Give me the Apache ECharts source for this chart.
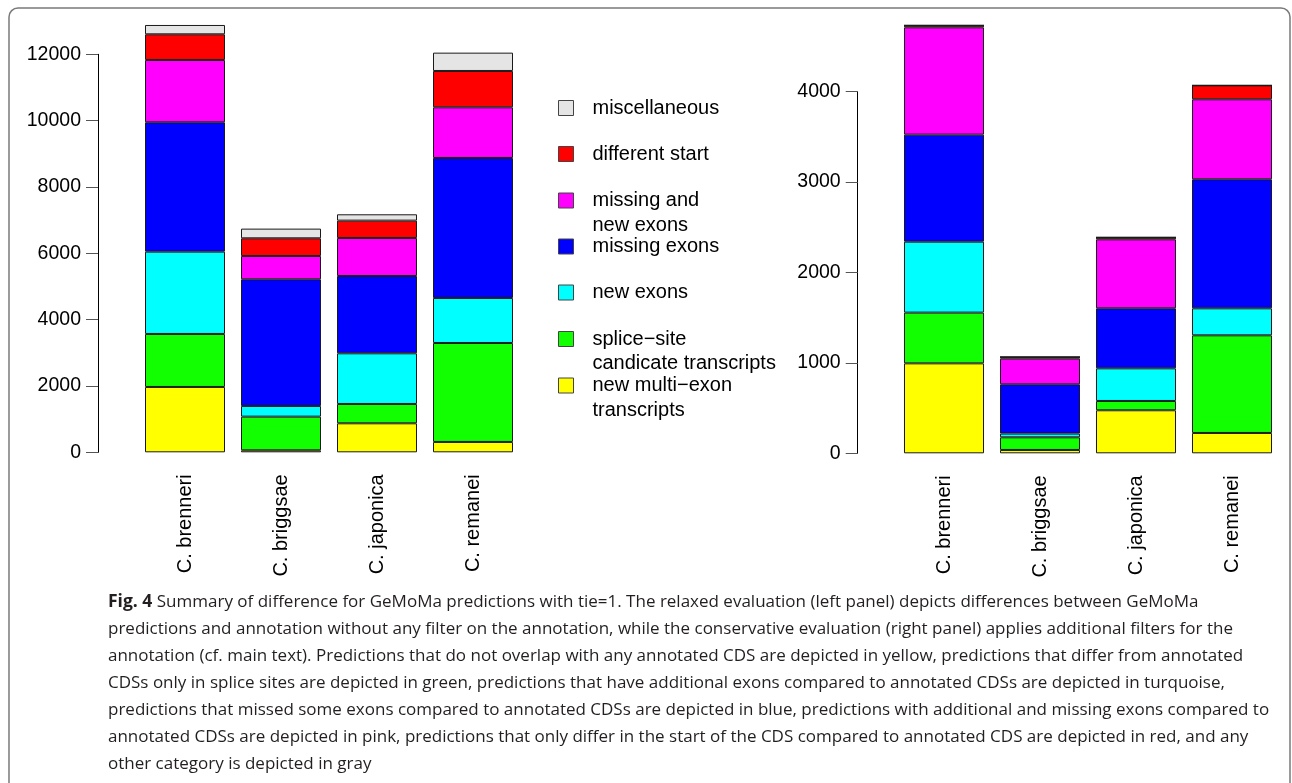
<!DOCTYPE html>
<html>
<head>
<meta charset="utf-8">
<script src="https://cdn.jsdelivr.net/npm/echarts@6/dist/echarts.min.js"></script>
<style>html,body{margin:0;padding:0;background:#fff}#c{width:1292px;height:783px}</style>
</head>
<body>
<div id="c"></div>
<script>
// ---- data ----
const categories = ['C. brenneri', 'C. briggsae', 'C. japonica', 'C. remanei'];
const seriesNames = ['new multi\u2212exon\ntranscripts', 'splice\u2212site\ncandicate transcripts', 'new exons', 'missing exons', 'missing and\nnew exons', 'different start', 'miscellaneous'];
const seriesColors = ['#FFFF00', '#11FF00', '#00FFFF', '#0000FF', '#FF00FF', '#FF0000', '#E5E5E5'];

// relaxed evaluation (left panel)
const leftYellow  = [1970, 60, 874, 312];
const leftGreen   = [1598, 1015, 583, 2984];
const leftCyan    = [2482, 322, 1528, 1357];
const leftBlue    = [3900, 3819, 2331, 4221];
const leftMagenta = [1879, 703, 1146, 1528];
const leftRed     = [774, 533, 523, 1095];
const leftGray    = [281, 292, 191, 553];

// conservative evaluation (right panel)
const rightYellow  = [995, 37, 476, 225];
const rightGreen   = [561, 140, 103, 1080];
const rightCyan    = [785, 41, 361, 299];
const rightBlue    = [1184, 545, 664, 1427];
const rightMagenta = [1187, 284, 763, 885];
const rightRed     = [22, 19, 22, 154];
const rightGray    = [0, 0, 0, 0];

const leftTicks = [0, 2000, 4000, 6000, 8000, 10000, 12000];
const rightTicks = [0, 1000, 2000, 3000, 4000];

const leftData = [leftYellow, leftGreen, leftCyan, leftBlue, leftMagenta, leftRed, leftGray];
const rightData = [rightYellow, rightGreen, rightCyan, rightBlue, rightMagenta, rightRed, rightGray];

const captionLines = [
  '{b|Fig. 4} Summary of difference for GeMoMa predictions with tie=1. The relaxed evaluation (left panel) depicts differences between GeMoMa',
  'predictions and annotation without any filter on the annotation, while the conservative evaluation (right panel) applies additional filters for the',
  'annotation (cf. main text). Predictions that do not overlap with any annotated CDS are depicted in yellow, predictions that differ from annotated',
  'CDSs only in splice sites are depicted in green, predictions that have additional exons compared to annotated CDSs are depicted in turquoise,',
  'predictions that missed some exons compared to annotated CDSs are depicted in blue, predictions with additional and missing exons compared to',
  'annotated CDSs are depicted in pink, predictions that only differ in the start of the CDS compared to annotated CDS are depicted in red, and any',
  'other category is depicted in gray'
];

// ---- chart ----
const FONT = "'Liberation Sans', Arial, Helvetica, sans-serif";
const CAPFONT = "'Open Sans', 'Noto Sans', sans-serif";
const chart = echarts.init(document.getElementById('c'), null, {renderer: 'canvas'});

function makeSeries(dataArr, idx, stack) {
  return dataArr.map((d, i) => ({
    name: seriesNames[i],
    type: 'bar',
    stack: stack,
    xAxisIndex: idx,
    yAxisIndex: idx,
    barWidth: 80,
    clip: false,
    silent: true,
    animation: false,
    data: d,
    itemStyle: {color: seriesColors[i], borderColor: '#1a1a1a', borderWidth: 1}
  }));
}

function yAxis(idx, max, interval, offset, ticks) {
  return {
    type: 'value', gridIndex: idx, min: 0, max: max, interval: interval,
    offset: offset,
    axisLine: {show: true, lineStyle: {color: '#000', width: 1}},
    axisTick: {show: true, length: 12, inside: false, lineStyle: {color: '#555', width: 1}},
    splitLine: {show: false},
    axisLabel: {
      show: true, margin: 17, fontSize: 19.5, color: '#000', fontFamily: FONT,
      formatter: v => ticks.indexOf(v) >= 0 ? String(v) : ''
    }
  };
}

function xAxis(idx) {
  return {
    type: 'category', gridIndex: idx, data: categories,
    axisLine: {show: false}, axisTick: {show: false}, splitLine: {show: false},
    axisLabel: {rotate: 90, margin: 22, fontSize: 20, color: '#000', fontFamily: FONT, interval: 0}
  };
}

// legend: top to bottom reverse of stack order
const legendCenters = [108, 154, 200.5, 246.5, 292.5, 339, 385.5];
const LH = 24.5;
const legends = [];
for (let k = 0; k < 7; k++) {
  const sIdx = 6 - k;
  const name = seriesNames[sIdx];
  const twoLine = name.indexOf('\n') >= 0;
  legends.push({
    data: [name],
    orient: 'vertical',
    left: 558,
    top: legendCenters[k] - (twoLine ? 1.5 * LH : 0.5 * LH),
    padding: 0,
    itemWidth: 15,
    itemHeight: 15,
    icon: 'rect',
    selectedMode: false,
    formatter: n => (n.indexOf('\n') >= 0 ? '\n' + n : n),
    itemStyle: {borderColor: '#444', borderWidth: 1},
    textStyle: {fontSize: 20, color: '#000', fontFamily: FONT, lineHeight: LH, padding: [0, 0, 0, 14]}
  });
}

chart.setOption({
  animation: false,
  backgroundColor: '#fff',
  title: {
    text: captionLines.join('\n'),
    left: 108, top: 589, padding: 0,
    textStyle: {
      fontFamily: CAPFONT, fontSize: 17, fontWeight: 'normal', color: '#231f20', lineHeight: 27,
      rich: {b: {fontFamily: CAPFONT, fontSize: 17.5, fontWeight: 'bold', color: '#231f20', lineHeight: 27}}
    }
  },
  legend: legends,
  grid: [
    {left: 137, width: 384, top: 54.3, height: 398, containLabel: false},
    {left: 896, width: 384, top: 91.7, height: 361.6, containLabel: false}
  ],
  xAxis: [xAxis(0), xAxis(1)],
  yAxis: [yAxis(0, 12000, 2000, 39, leftTicks), yAxis(1, 4000, 1000, 38.3, rightTicks)],
  series: makeSeries(leftData, 0, 'left').concat(makeSeries(rightData, 1, 'right')),
  graphic: [{
    type: 'rect', silent: true, z: -1,
    shape: {x: 9, y: 8, width: 1281, height: 900, r: 9},
    style: {fill: 'none', stroke: '#7a7a7a', lineWidth: 1.5}
  }]
});
</script>
</body>
</html>
